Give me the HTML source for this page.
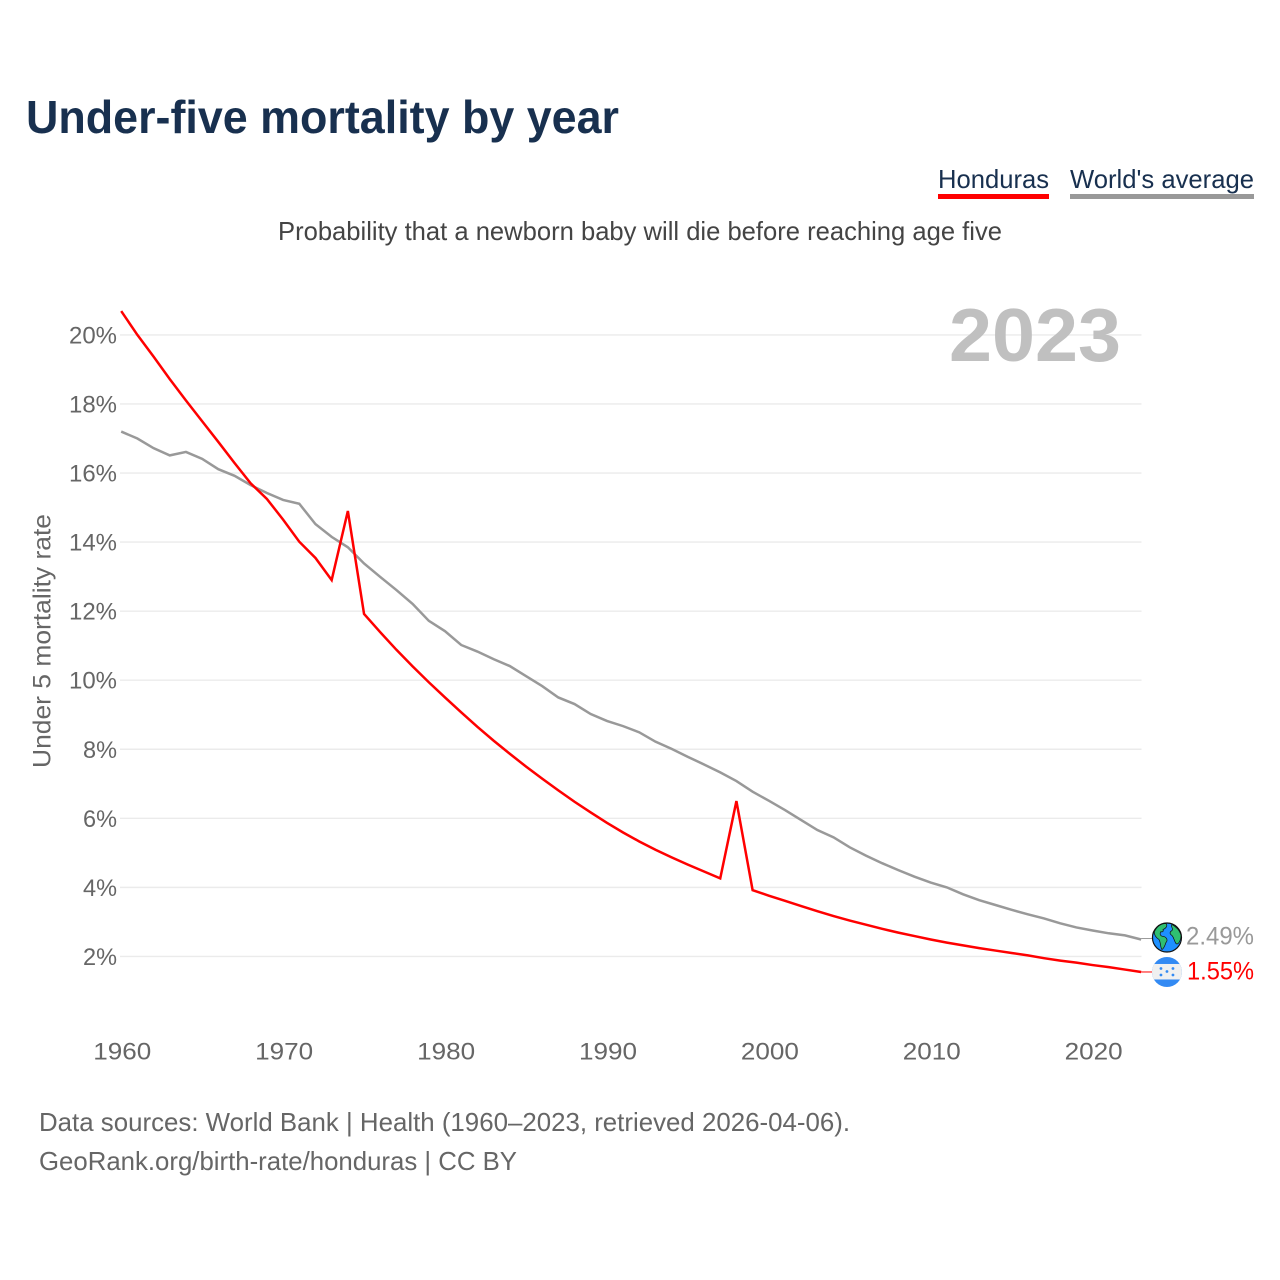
<!DOCTYPE html>
<html lang="en">
<head>
<meta charset="utf-8">
<title>Under-five mortality by year</title>
<style>
html,body{margin:0;padding:0;background:#fff;width:1280px;height:1280px;overflow:hidden}
svg{display:block}
text{font-family:"Liberation Sans",sans-serif}
</style>
</head>
<body>
<svg id="chart" xmlns="http://www.w3.org/2000/svg" width="1280" height="1280" viewBox="0 0 1280 1280">
  <rect width="1280" height="1280" fill="#fff"/>
  <text x="26" y="133" font-size="46" font-weight="700" fill="#18304f" textLength="593" lengthAdjust="spacingAndGlyphs">Under-five mortality by year</text>

  <g>
    <text x="938" y="188" font-size="26" fill="#18304f" textLength="111" lengthAdjust="spacingAndGlyphs">Honduras</text>
    <rect x="938" y="194" width="111" height="5" fill="#ff0000"/>
  </g>
  <g>
    <text x="1070" y="188" font-size="26" fill="#18304f" textLength="184" lengthAdjust="spacingAndGlyphs">World's average</text>
    <rect x="1070" y="194" width="184" height="5" fill="#999999"/>
  </g>

  <text x="278" y="240" font-size="26" fill="#444" textLength="724" lengthAdjust="spacingAndGlyphs">Probability that a newborn baby will die before reaching age five</text>

  <g id="grid"></g>

  <text x="949" y="361" font-size="75" font-weight="700" fill="#c0c0c0" textLength="172" lengthAdjust="spacingAndGlyphs">2023</text>

  <g id="yticks"></g>
  <g id="xticks"></g>

  <text transform="translate(50.5,768) rotate(-90)" font-size="25" fill="#666" textLength="254" lengthAdjust="spacingAndGlyphs">Under 5 mortality rate</text>

  <g id="series"></g>

  <g id="globe-icon">
    <circle cx="0" cy="0" r="14.5" fill="#1e90ff" stroke="#111" stroke-width="1.2"/>
    <path d="M-12.5 -6 C-10 -11 -6 -14 -1 -14 C1 -12 -1 -9 -4 -8 C-3 -6 -5 -5 -6 -6 C-8 -3 -6 -1 -3 -1 C0 0 1 3 -1 5 C-2 8 -3 11 -5 12 C-7 9 -6 5 -8 2 C-11 0 -13 -3 -12.5 -6Z" fill="#2fbf71" stroke="#111" stroke-width=".7"/>
    <path d="M5 -13 C9 -11 13 -7 14 -2 C14 3 11 8 9 6 C7 3 7 0 5 -2 C2 -4 3 -6 5 -7 C7 -9 3 -11 5 -13Z" fill="#2fbf71" stroke="#111" stroke-width=".7"/>
  </g>
  <g id="flag-icon">
    <clipPath id="flag-clip"><circle cx="0" cy="0" r="15"/></clipPath>
    <g clip-path="url(#flag-clip)">
      <rect x="-15" y="-15" width="30" height="30" fill="#338af3"/>
      <rect x="-15" y="-8" width="30" height="15.5" fill="#f0f0f0"/>
    </g>
    <g fill="#338af3">
      <circle cx="-6" cy="-3.5" r="1.4"/><circle cx="6" cy="-3.5" r="1.4"/><circle cx="0" cy="-0.5" r="1.4"/><circle cx="-6" cy="3" r="1.4"/><circle cx="6" cy="3" r="1.4"/>
    </g>
  </g>

  <g id="end-labels"></g>

  <text x="39" y="1131" font-size="26" fill="#666" textLength="811" lengthAdjust="spacingAndGlyphs">Data sources: World Bank | Health (1960–2023, retrieved 2026-04-06).</text>
  <text x="39" y="1170" font-size="26" fill="#666" textLength="478" lengthAdjust="spacingAndGlyphs">GeoRank.org/birth-rate/honduras | CC BY</text>
</svg>
<script>
var firstYear = 1960;
var xTickYears = [1960, 1970, 1980, 1990, 2000, 2010, 2020];
var yTickValues = [2, 4, 6, 8, 10, 12, 14, 16, 18, 20];
var hondurasValues = [
  20.69, 20.0, 19.37, 18.72, 18.1, 17.5, 16.9, 16.29, 15.7, 15.25,
  14.65, 14.01, 13.54, 12.9, 14.9, 11.92, 11.39, 10.88, 10.40, 9.94,
  9.50, 9.07, 8.65, 8.25, 7.87, 7.50, 7.15, 6.81, 6.48, 6.17,
  5.87, 5.59, 5.33, 5.09, 4.87, 4.66, 4.46, 4.26, 6.5, 3.92,
  3.76, 3.61, 3.46, 3.31, 3.17, 3.04, 2.92, 2.80, 2.69, 2.59,
  2.49, 2.40, 2.32, 2.24, 2.17, 2.10, 2.03, 1.95, 1.88, 1.82,
  1.75, 1.69, 1.62, 1.55
];
var worldValues = [
  17.2, 17.0, 16.72, 16.51, 16.61, 16.41, 16.11, 15.92, 15.65, 15.42,
  15.22, 15.11, 14.52, 14.15, 13.85, 13.38, 12.99, 12.61, 12.21, 11.72,
  11.42, 11.02, 10.83, 10.61, 10.41, 10.12, 9.83, 9.5, 9.31, 9.02,
  8.82, 8.67, 8.49, 8.22, 8.01, 7.78, 7.56, 7.33, 7.08, 6.77,
  6.51, 6.24, 5.95, 5.66, 5.45, 5.16, 4.92, 4.7, 4.5, 4.31,
  4.14, 4.0, 3.8, 3.63, 3.49, 3.35, 3.22, 3.1, 2.96, 2.84,
  2.75, 2.67, 2.61, 2.49
];

var NS = 'http://www.w3.org/2000/svg';
function xScale(year) { return 121.2 + (year - 1960) * 16.19; }
function yScale(value) { return 1025.5 - value * 34.53; }
function make(tag, parent, attrs, txt) {
  var el = document.createElementNS(NS, tag);
  for (var k in attrs) el.setAttribute(k, attrs[k]);
  if (txt !== undefined) el.textContent = txt;
  parent.appendChild(el);
  return el;
}

var grid = document.getElementById('grid');
var yticks = document.getElementById('yticks');
yTickValues.forEach(function (v) {
  var line = make('line', grid, {x1: 120, x2: 1141.5, y1: yScale(v), y2: yScale(v), stroke: '#ebebeb', 'stroke-width': 1.4});
  
  
  var label = make('text', yticks, {x: 117, y: yScale(v) + 8.5, 'text-anchor': 'end', 'font-size': 24, fill: '#666', textLength: 48, lengthAdjust: 'spacingAndGlyphs'}, v + '%');
  if (v < 10) { label.setAttribute('textLength', 34); }
  
  
});

var xticks = document.getElementById('xticks');
xTickYears.forEach(function (yr) {
  var label = make('text', xticks, {x: xScale(yr) + 1.1, y: 1059.5, 'text-anchor': 'middle', 'font-size': 24.5, fill: '#666', textLength: 58, lengthAdjust: 'spacingAndGlyphs'}, String(yr));
  
  
});

function pathFor(values) {
  return values.map(function (v, i) {
    return (i ? 'L' : 'M') + xScale(firstYear + i).toFixed(2) + ' ' + yScale(v).toFixed(2);
  }).join(' ');
}

var seriesGroup = document.getElementById('series');
var worldLine = make('path', seriesGroup, {d: pathFor(worldValues), fill: 'none', stroke: '#999999', 'stroke-width': 2.5, 'stroke-linejoin': 'miter'});


var hondurasLine = make('path', seriesGroup, {d: pathFor(hondurasValues), fill: 'none', stroke: '#ff0000', 'stroke-width': 2.5, 'stroke-linejoin': 'miter'});



var lastYear = firstYear + hondurasValues.length - 1;
var endX = xScale(lastYear);
var worldLast = worldValues[worldValues.length - 1];
var hondurasLast = hondurasValues[hondurasValues.length - 1];

var worldLead = make('line', seriesGroup, {x1: endX, x2: endX + 11, y1: yScale(worldLast) - 1, y2: yScale(worldLast) - 1, stroke: '#999999', 'stroke-width': 1});


var hondurasLead = make('line', seriesGroup, {x1: endX, x2: endX + 11, y1: yScale(hondurasLast), y2: yScale(hondurasLast), stroke: '#ff0000', 'stroke-width': 1});



document.getElementById('globe-icon').setAttribute('transform', 'translate(' + (endX + 25.8) + ',' + (yScale(worldLast) - 2) + ')');
document.getElementById('flag-icon').setAttribute('transform', 'translate(' + (endX + 25.8) + ',' + yScale(hondurasLast) + ')');

var endLabels = document.getElementById('end-labels');
var worldEnd = make('text', endLabels, {x: 1186, y: yScale(worldLast) + 5, 'font-size': 25, fill: '#999999', textLength: 68, lengthAdjust: 'spacingAndGlyphs'}, worldLast.toFixed(2) + '%');


var hondurasEnd = make('text', endLabels, {x: 1187, y: yScale(hondurasLast) + 7.5, 'font-size': 25, fill: '#ff0000', textLength: 67, lengthAdjust: 'spacingAndGlyphs'}, hondurasLast.toFixed(2) + '%');


</script>
</body>
</html>
